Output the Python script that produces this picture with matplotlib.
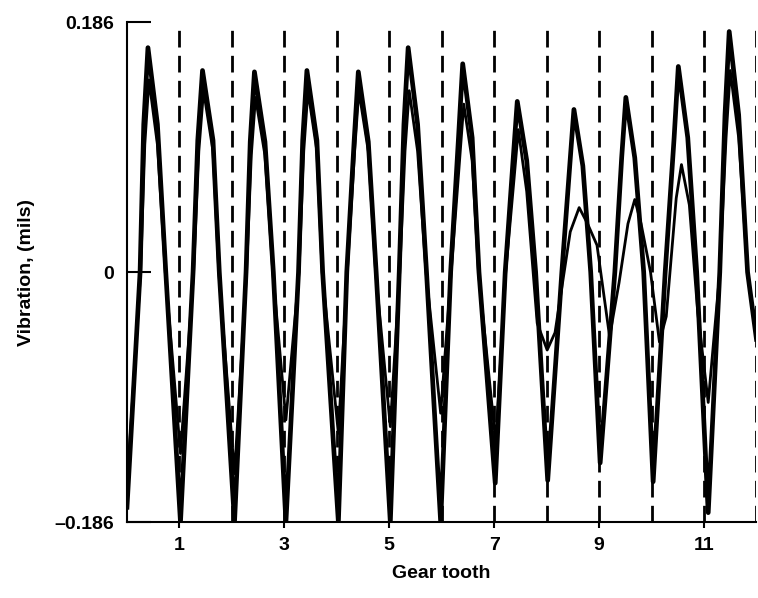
#!/usr/bin/env python3
"""
Gear tooth vibration trace: two overlaid signals with tooth-mesh markers
"""

import matplotlib
matplotlib.use("Agg")
import matplotlib.pyplot as plt

# Curve A (heavy trace) - vertices:
# trough, rising zero, left shoulder, peak, right shoulder, falling zero
TOOTH_A = [0.00, 0.25, 0.32, 0.40, 0.58, 0.74,
           1.02, 1.26, 1.35, 1.44, 1.64, 1.76,
           2.05, 2.27, 2.35, 2.43, 2.63, 2.79,
           3.03, 3.27, 3.35, 3.43, 3.62, 3.73,
           4.03, 4.19, 4.33, 4.41, 4.60, 4.75,
           5.02, 5.19, 5.28, 5.36, 5.54, 5.71,
           5.98, 6.17, 6.32, 6.40, 6.58, 6.71,
           7.02, 7.21, 7.36, 7.44, 7.62, 7.79,
           8.02, 8.29, 8.44, 8.52, 8.69, 8.84,
           9.02, 9.30, 9.43, 9.51, 9.68, 9.85,
           10.03, 10.26, 10.43, 10.51, 10.69, 10.86,
           11.08, 11.30, 11.40, 11.48, 11.66, 11.83, 12.00]
VIB_A = [-0.175, 0.000, 0.110, 0.167, 0.110, 0.000,
         -0.186, 0.000, 0.098, 0.150, 0.098, 0.000,
         -0.186, 0.000, 0.097, 0.149, 0.097, 0.000,
         -0.186, 0.000, 0.098, 0.150, 0.098, 0.000,
         -0.186, 0.000, 0.097, 0.149, 0.097, 0.000,
         -0.186, 0.000, 0.110, 0.167, 0.110, 0.000,
         -0.186, 0.000, 0.100, 0.155, 0.100, 0.000,
         -0.157, 0.000, 0.083, 0.127, 0.083, 0.000,
         -0.155, 0.000, 0.079, 0.121, 0.079, 0.000,
         -0.142, 0.000, 0.085, 0.130, 0.085, 0.000,
         -0.156, 0.000, 0.100, 0.153, 0.100, 0.000,
         -0.179, 0.000, 0.117, 0.179, 0.117, 0.000, -0.050]

# Curve B (lighter trace) - drops away from A between teeth 7 and 11
TOOTH_B = [0.00, 0.26, 0.34, 0.42, 0.58, 0.73,
           1.02, 1.27, 1.37, 1.46, 1.64, 1.75,
           2.05, 2.28, 2.37, 2.45, 2.63, 2.78,
           3.03, 3.28, 3.37, 3.45, 3.62, 3.72,
           4.03, 4.20, 4.34, 4.42, 4.60, 4.74,
           5.02, 5.20, 5.30, 5.38, 5.54, 5.70,
           5.98, 6.18, 6.34, 6.42, 6.58, 6.70,
           7.03, 7.22, 7.38, 7.46, 7.62, 7.82, 8.01, 8.16,
           8.45, 8.62, 8.78, 8.96, 9.20, 9.38,
           9.55, 9.68, 9.80, 9.98, 10.15, 10.28,
           10.47, 10.57, 10.72, 10.88, 11.08, 11.30,
           11.42, 11.50, 11.66, 11.83, 12.00]
VIB_B = [-0.160, 0.000, 0.095, 0.143, 0.095, 0.000,
         -0.135, 0.000, 0.090, 0.135, 0.090, 0.000,
         -0.150, 0.000, 0.087, 0.130, 0.087, 0.000,
         -0.110, 0.000, 0.090, 0.135, 0.090, 0.000,
         -0.120, 0.000, 0.090, 0.135, 0.090, 0.000,
         -0.115, 0.000, 0.090, 0.135, 0.090, 0.000,
         -0.105, 0.000, 0.083, 0.125, 0.083, 0.000,
         -0.127, 0.000, 0.070, 0.106, 0.060, -0.038, -0.058, -0.045,
         0.030, 0.048, 0.036, 0.020, -0.048, -0.008,
         0.036, 0.054, 0.036, 0.000, -0.052, -0.033,
         0.055, 0.080, 0.050, -0.030, -0.097, 0.000,
         0.100, 0.150, 0.100, 0.000, -0.050]

# Tooth mesh markers
DASH_TEETH = [1, 2, 3, 4, 5, 6, 7, 8, 9, 10, 11, 12]

XTICKS = [1, 3, 5, 7, 9, 11]
YTICKS = [-0.186, 0, 0.186]
YTICK_LABELS = ["\u20130.186", "0", "0.186"]

FONT = "Liberation Sans"


def main():
    plt.rcParams['font.family'] = [FONT, 'DejaVu Sans']

    fig = plt.figure(figsize=(7.58, 5.98), dpi=100)
    ax = fig.add_axes([0.1675, 0.127, 0.8305, 0.836])

    # dashed tooth lines behind the traces
    for t in DASH_TEETH:
        ax.axvline(t, color='black', lw=2.0, dashes=(6, 3), zorder=1)

    ax.plot(TOOTH_A, VIB_A, color='black', lw=3.4, zorder=3)
    ax.plot(TOOTH_B, VIB_B, color='black', lw=2.0, zorder=2)

    ax.set_xlim(0, 12)
    ax.set_ylim(-0.186, 0.186)

    ax.spines['top'].set_visible(False)
    ax.spines['right'].set_visible(False)
    ax.spines['left'].set_linewidth(1.5)
    ax.spines['bottom'].set_linewidth(1.5)

    ax.set_xticks(XTICKS)
    ax.set_xticklabels([str(x) for x in XTICKS], fontsize=14, fontweight='bold')
    ax.tick_params(axis='x', direction='out', length=4, width=1.5, pad=7)

    ax.set_yticks(YTICKS)
    ax.set_yticklabels(YTICK_LABELS, fontsize=14, fontweight='bold')
    ax.tick_params(axis='y', direction='in', length=17, width=1.5, pad=9)

    ax.set_xlabel('Gear tooth', fontsize=14, fontweight='bold', labelpad=8)
    ax.set_ylabel('Vibration, (mils)', fontsize=14, fontweight='bold', labelpad=14)

    fig.savefig('out.png', dpi=100)


if __name__ == "__main__":
    main()
